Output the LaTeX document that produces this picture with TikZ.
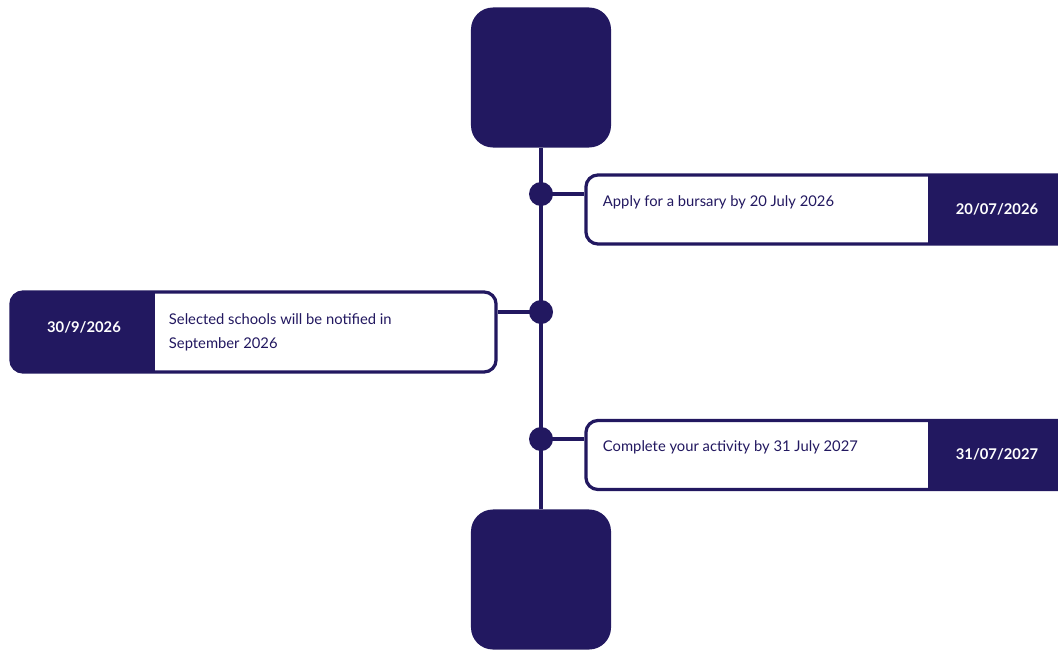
\documentclass[tikz,border=0pt]{standalone}
\usepackage{fontspec}
\setmainfont{Lato}
\definecolor{navy}{RGB}{34,24,96}

\tikzset{
  endbox/.style={fill=navy, rounded corners=0.55cm, minimum width=3.5cm, minimum height=3.5cm, inner sep=0pt},
  dot/.style={circle, fill=navy, minimum size=0.6cm, inner sep=0pt},
  rightbox/.style={draw=navy, line width=2.3pt, fill=white, rounded corners=0.3cm,
    minimum width=12.225cm, minimum height=1.725cm, inner sep=0pt,
    path picture={\fill[navy, sharp corners] ([xshift=8.55cm]path picture bounding box.north west) rectangle (path picture bounding box.south east);}},
  leftbox/.style={draw=navy, line width=2.3pt, fill=white, rounded corners=0.3cm,
    minimum width=12.125cm, minimum height=2cm, inner sep=0pt,
    path picture={\fill[navy, sharp corners] (path picture bounding box.north west) rectangle ([xshift=3.6cm]path picture bounding box.south west);}},
  label/.style={text=navy, font=\fontsize{10.5}{17}\selectfont, anchor=west, align=left},
  date/.style={text=white, font=\bfseries\fontsize{10.5}{13}\selectfont}
}

\begin{document}
\begin{tikzpicture}[x=0.025cm, y=-0.025cm]
\useasboundingbox (0,0) rectangle (1058,650);
\clip (0,0) rectangle (1058,650);

\node (top) [endbox, at={(541,77.5)}] {};
\node (bot) [endbox, at={(541,579.5)}] {};
\draw[navy, line width=2.4pt] (top) -- (bot);

\node (d1) [dot, at={(541,194)}] {};
\node (d2) [dot, at={(541,312)}] {};
\node (d3) [dot, at={(541,439)}] {};

\node (b1) [rightbox, at={(830.5,209.5)}] {};
\node (b2) [leftbox, at={(253.5,332)}] {};
\node (b3) [rightbox, at={(830.5,455)}] {};

\draw[navy, line width=2.4pt] (d1.center) -- (d1 -| b1.west);
\draw[navy, line width=2.4pt] (d2.center) -- (d2 -| b2.east);
\draw[navy, line width=2.4pt] (d3.center) -- (d3 -| b3.west);

\node (t1) [label, at={(598,202)}] {Apply for a bursary by 20 July 2026};
\node (t2) [label, at={(164,332)}] {Selected schools will be notified in\\September 2026};
\node (t3) [label, at={(598,447)}] {Complete your activity by 31 July 2027};

\node (a1) [date, at={(997,209)}] {20/07/2026};
\node (a2) [date, at={(84,327)}] {30/9/2026};
\node (a3) [date, at={(997,454)}] {31/07/2027};
\end{tikzpicture}
\end{document}
